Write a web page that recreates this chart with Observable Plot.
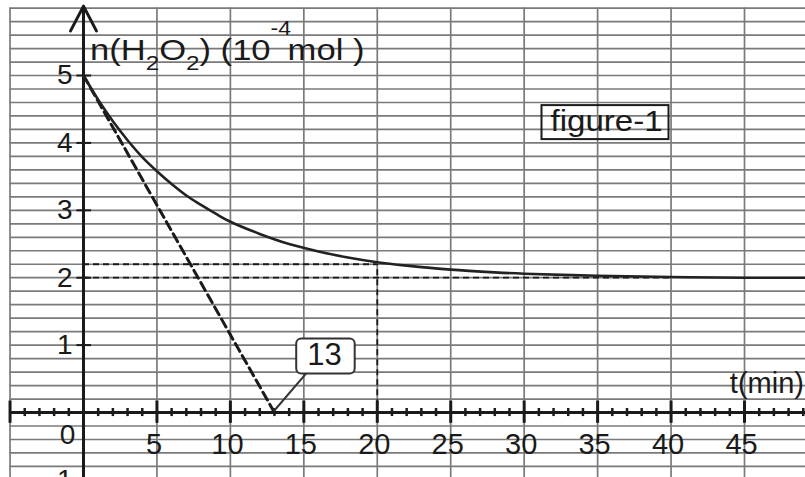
<!DOCTYPE html>
<html><head><meta charset="utf-8">
<script src="https://cdn.jsdelivr.net/npm/d3@7"></script>
<script src="https://cdn.jsdelivr.net/npm/@observablehq/plot@0.6"></script>
<style>
html,body{margin:0;padding:0;background:#fff;}
#chart{width:805px;height:477px;overflow:hidden;}
</style></head>
<body><div id="chart"></div>
<script>
// ---- data ----
const curveT = [0, 1, 2, 3, 4, 5, 6, 7, 8, 9, 10, 12, 14, 16, 18, 20, 22, 25, 28, 30, 35, 40, 45, 50];
const curveN = [5.00, 4.64, 4.32, 4.04, 3.79, 3.58, 3.39, 3.22, 3.08, 2.95, 2.83, 2.65, 2.50, 2.39, 2.30, 2.23, 2.18, 2.12, 2.08, 2.06, 2.03, 2.01, 2.00, 2.00];
const tangentT = [0, 13];
const tangentN = [5, 0];
const readT = [20];
const readN = [2.2];
const limitN = [2];
const limitEndT = [40];
const xTickLabels = [5, 10, 15, 20, 25, 30, 35, 40, 45];
const yTickLabels = [-1, 1, 2, 3, 4, 5];
const zeroLabel = ["0"];
const calloutLabel = ["13"];
const figureLabel = ["figure-1"];
const xAxisTitle = ["t(min)"];
const gridT = d3.range(-5, 50, 5);
const gridN = d3.range(-4, 31).map(k => k / 5);
const minorT = d3.range(-5, 50, 1).filter(t => t % 5 !== 0);
const majorT = d3.range(-5, 50, 5).filter(t => t !== 0);

const curve = curveT.map((t, i) => ({t, n: curveN[i]}));
const tangent = tangentT.map((t, i) => ({t, n: tangentN[i]}));

const ink = "#1a1a1a";
const font = "Liberation Sans, Arial, Helvetica, sans-serif";

const plot = Plot.plot({
  width: 805,
  height: 477,
  margin: 0,
  style: {fontFamily: font, background: "#fff", overflow: "hidden"},
  x: {domain: [-5.650, 49.152], axis: null},
  y: {domain: [-0.964, 6.113], axis: null},
  marks: [
    // graph paper grid
    Plot.ruleY(gridN, {x1: -5, x2: 49.2, stroke: "#7a7a7a", strokeWidth: 1.7}),
    Plot.ruleX(gridT, {y1: -0.97, y2: 6.0, stroke: "#7a7a7a", strokeWidth: 1.7}),
    // axes
    Plot.ruleY([0], {x1: -5, x2: 49.2, stroke: ink, strokeWidth: 3}),
    Plot.arrow([0], {x1: 0, y1: -0.97, x2: 0, y2: 6.03, stroke: ink, strokeWidth: 3, headLength: 14, headAngle: 55}),
    Plot.ruleX(minorT, {x: d => d, y1: -0.06, y2: 0.06, stroke: ink, strokeWidth: 2.5}),
    Plot.ruleX(majorT, {x: d => d, y1: -0.16, y2: 0.17, stroke: ink, strokeWidth: 3}),
    Plot.ruleY(yTickLabels, {y: d => d, x1: -0.45, x2: 0.55, stroke: ink, strokeWidth: 2}),
    // reading lines
    Plot.ruleY(readN, {y: d => d, x1: 0, x2: readT[0], stroke: ink, strokeWidth: 1.8, strokeDasharray: "6,4"}),
    Plot.ruleX(readT, {x: d => d, y1: 0.1, y2: readN[0], stroke: ink, strokeWidth: 1.8, strokeDasharray: "6,4"}),
    Plot.ruleY(limitN, {y: d => d, x1: 0, x2: limitEndT[0], stroke: ink, strokeWidth: 1.8, strokeDasharray: "6,4"}),
    // tangent and curve
    Plot.line(tangent, {x: "t", y: "n", stroke: ink, strokeWidth: 3, strokeDasharray: "9,5"}),
    Plot.line(curve, {x: "t", y: "n", stroke: "#222", strokeWidth: 2.6, curve: "catmull-rom"}),
    // tick labels
    Plot.text(yTickLabels, {x: 0, y: d => d, text: d => String(d), dx: -11, textAnchor: "end", fontSize: 28, fill: ink}),
    Plot.text(zeroLabel, {x: 0, y: 0, text: d => d, dx: -16, dy: 23, fontSize: 28, fill: ink}),
    Plot.text(xTickLabels, {x: d => d, y: 0, text: d => String(d), dx: -3, dy: 32, fontSize: 29, fill: ink}),
    Plot.text(xAxisTitle, {x: 44, y: 0, text: d => d, textAnchor: "start", dy: -29, fontSize: 29, fill: ink}),
    // annotations
    Plot.text(calloutLabel, {x: tangentT[1], y: 0, text: d => d, dx: 50, dy: -57, fontSize: 31, fill: ink, ariaDescription: "callout"}),
    Plot.text(figureLabel, {frameAnchor: "top-right", textAnchor: "middle", lineAnchor: "middle", text: d => d, dx: -199, dy: 121, fontSize: 30, fill: ink, ariaDescription: "figure"})
  ]
});

document.getElementById("chart").appendChild(plot);

const svg = d3.select(plot);
const xs = plot.scale("x"), ys = plot.scale("y");

function boxOf(el) {
  const b = el.getBBox();
  const m = el.getCTM();
  return {x: m.e + b.x, y: m.f + b.y, w: b.width, h: b.height};
}

// box around "figure-1"
const figText = plot.querySelector('g[aria-description="figure"] text');
figText.setAttribute("textLength", 112);
figText.setAttribute("lengthAdjust", "spacingAndGlyphs");
const fb = boxOf(figText);
svg.append("rect")
  .attr("x", fb.x - 9).attr("y", fb.y + 1)
  .attr("width", fb.w + 15).attr("height", fb.h + 1)
  .attr("fill", "none").attr("stroke", ink).attr("stroke-width", 2);

// callout box around "13"
const calG = plot.querySelector('g[aria-description="callout"]');
const cb = boxOf(calG.querySelector("text"));
const bx = cb.x - 11, by = cb.y + 1, bw = cb.w + 24, bh = cb.h;
svg.insert("rect", 'g[aria-description="callout"]')
  .attr("x", bx).attr("y", by).attr("width", bw).attr("height", bh)
  .attr("rx", 5).attr("fill", "#fff").attr("stroke", "#333").attr("stroke-width", 2);
svg.append("line")
  .attr("x1", xs.apply(tangentT[1])).attr("y1", ys.apply(0) - 1)
  .attr("x2", bx + 10).attr("y2", by + bh)
  .attr("stroke", "#333").attr("stroke-width", 2);

// y-axis title with sub/superscripts
const title = svg.append("text")
  .attr("fill", ink).attr("font-size", 30).attr("font-family", font)
  .attr("text-anchor", "start");
title.append("tspan").text("n(H");
title.append("tspan").attr("font-size", 21).attr("dy", 10).text("2");
title.append("tspan").attr("dy", -10).text("O");
title.append("tspan").attr("font-size", 21).attr("dy", 10).text("2");
title.append("tspan").attr("dy", -10).text(") (10");
title.append("tspan").attr("font-size", 20).attr("dy", -25).text("-4");
title.append("tspan").attr("dy", 25).attr("dx", -3).text("mol )");
const tl = title.node().getComputedTextLength();
title.attr("transform", `translate(90,60) scale(${278 / tl},1)`);
</script>
</body></html>
